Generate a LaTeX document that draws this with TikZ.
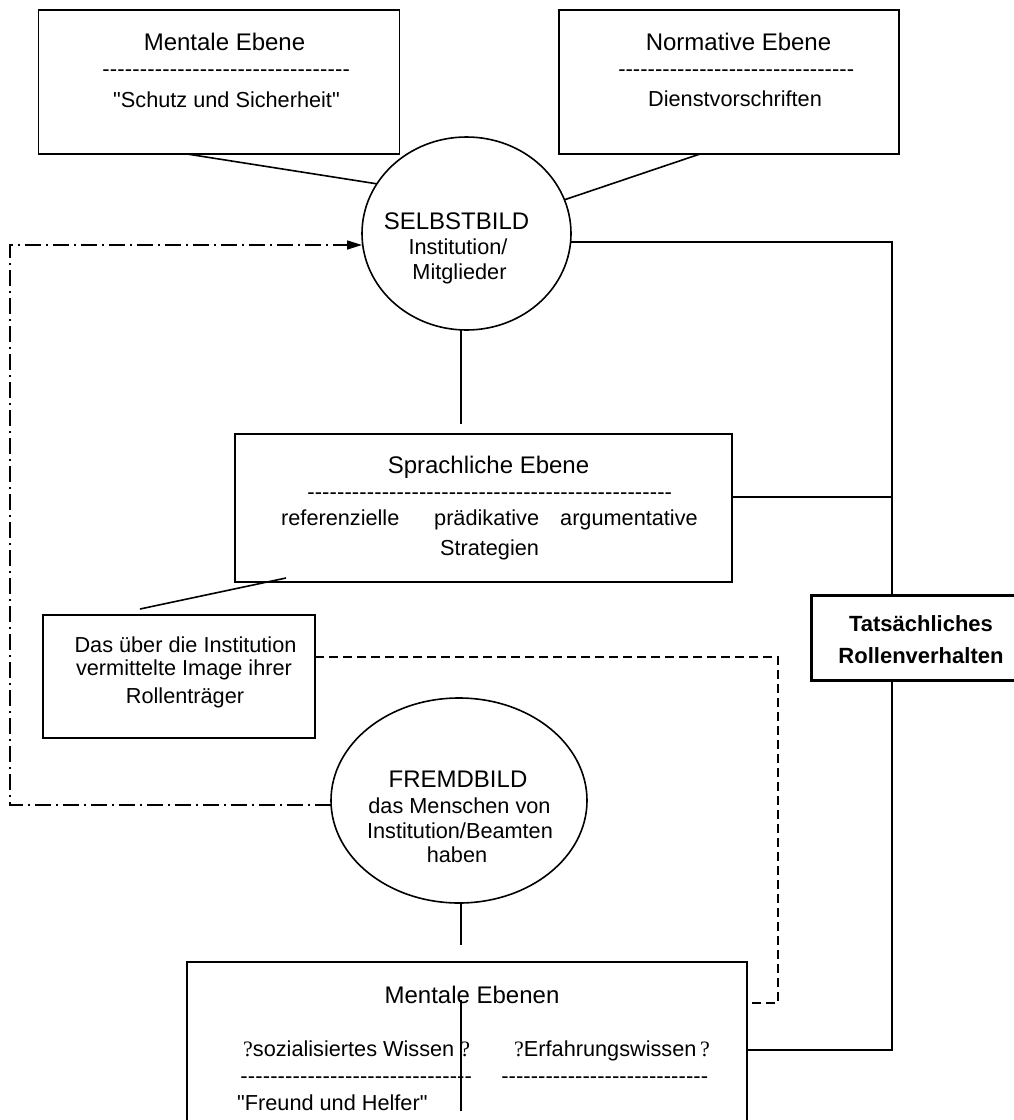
\documentclass[tikz,border=0pt]{standalone}
\usepackage{fontspec}
\setmainfont{Liberation Sans}
\newfontfamily\qfont{Liberation Serif}
\usetikzlibrary{arrows.meta,shapes.geometric}

% a row of hyphens filling a given width (in pt)
\newcommand\hyphrow[1]{\hbox to #1pt{\xleaders\hbox{-}\hfill}}
% the serif question marks around the knowledge types
\newcommand\qm{{\qfont\fontsize{22}{26}\selectfont ?}}
% straight double quote, set as a glyph so no ligature mapping curls it
\newcommand\dq{\XeTeXglyph\XeTeXcharglyph"22\relax}

\tikzset{
  conn/.style={line width=1.6pt},
  box/.style={draw, line width=1.6pt, rectangle, inner sep=0pt, outer sep=0pt},
  oval/.style={draw, line width=1.6pt, ellipse, inner sep=0pt, outer sep=0pt},
  head/.style={font=\fontsize{24}{28}\selectfont, inner sep=0pt, anchor=base},
  sub/.style={font=\fontsize{21.7}{26}\selectfont, inner sep=0pt, anchor=base},
  subleft/.style={sub, anchor=base west},
  hyph/.style={font=\fontsize{22}{26}\selectfont, inner sep=0pt, anchor=base west},
  boldtxt/.style={font=\fontsize{22}{26}\selectfont\bfseries, inner sep=0pt, anchor=base},
  dashline/.style={line width=1.6pt, dash pattern=on 9pt off 5pt},
  dashdotline/.style={line width=1.6pt, dash pattern=on 16pt off 5pt on 2pt off 5pt},
}

\begin{document}
\begin{tikzpicture}[x=1pt,y=-1pt]
\useasboundingbox (0,0) rectangle (1013,1120);
\fill[white] (0,0) rectangle (1013,1120);

% ---- shapes ----
\node[box, minimum width=361pt, minimum height=144pt] (mental) at (219,82) {};
\node[box, minimum width=340pt, minimum height=144pt] (norm) at (729,82) {};
\node[oval, minimum width=209pt, minimum height=193pt] (selbst) at (466.5,233.5) {};
\node[box, minimum width=497pt, minimum height=148pt] (sprach) at (483.5,508) {};
\node[box, minimum width=272pt, minimum height=123pt] (image) at (179,676.5) {};
\node[oval, minimum width=256pt, minimum height=205pt] (fremd) at (459,800.5) {};
\node[box, minimum width=560pt, minimum height=168pt] (ebenen) at (467,1046) {};
\node[draw, line width=3pt, rectangle, inner sep=0pt, outer sep=0pt,
      minimum width=205pt, minimum height=85pt] (tat) at (913.5,637.5) {};

% ---- texts ----
\node[head] (t1a) at (224.5,50) {Mentale Ebene};
\node[hyph] (t1b) at (102,76.7) {\hyphrow{248}};
\node[sub]  (t1c) at (226.5,107) {\dq Schutz und Sicherheit\dq};

\node[head] (t2a) at (738.5,50) {Normative Ebene};
\node[hyph] (t2b) at (618,76.7) {\hyphrow{236}};
\node[sub]  (t2c) at (735,106) {Dienstvorschriften};

\node[head] (t3a) at (456.5,229) {SELBSTBILD};
\node[sub]  (t3b) at (458,254) {Institution/};
\node[sub]  (t3c) at (459.5,279) {Mitglieder};

\node[head]    (t4a) at (488.5,473) {Sprachliche Ebene};
\node[hyph]    (t4b) at (307,499) {\hyphrow{365}};
\node[subleft] (t4c) at (281,525) {referenzielle};
\node[subleft] (t4d) at (434,525) {prädikative};
\node[subleft] (t4e) at (560,525) {argumentative};
\node[sub]     (t4f) at (489.5,555) {Strategien};

\node[sub] (t5a) at (185.5,652) {Das über die Institution};
\node[sub] (t5b) at (184,675) {vermittelte Image ihrer};
\node[sub] (t5c) at (185,703) {Rollenträger};

\node[head] (t6a) at (458,787) {FREMDBILD};
\node[sub]  (t6b) at (459.5,813) {das Menschen von};
\node[sub]  (t6c) at (460,838) {Institution/Beamten};
\node[sub]  (t6d) at (457,862) {haben};

\node[head]    (t7a) at (472,1003) {Mentale Ebenen};
\node[subleft] (t7b) at (243,1056) {\qm sozialisiertes Wissen \qm};
\node[hyph]    (t7c) at (240,1083) {\hyphrow{232}};
\node[subleft] (t7d) at (237,1110) {\dq Freund und Helfer\dq};
\node[subleft] (t7e) at (514,1056) {\qm Erfahrungswissen\,\qm};
\node[hyph]    (t7f) at (501,1083) {\hyphrow{207}};

\node[boldtxt] (t8a) at (921,631) {Tatsächliches};
\node[boldtxt] (t8b) at (921,663) {Rollenverhalten};

% ---- connector points ----
\coordinate (r1) at (892,242);
\coordinate (r2) at (892,497);
\coordinate (r3) at (892,1050);
\coordinate (s1) at (461,424);
\coordinate (p1) at (286,578);
\coordinate (p2) at (140,609);
\coordinate (d1) at (778,1003);
\coordinate (c1) at (10,805);
\coordinate (c2) at (10,245);
\coordinate (f1) at (461,945);
\coordinate (m1) at (461,1000);
\coordinate (m2) at (461,1111);

% ---- connectors ----
\draw[conn] ([xshift=-32pt]mental.south) -- (selbst.151.5);
\draw[conn] ([xshift=-29pt]norm.south) -- (selbst.19.3);
\draw[conn] (r1 -| selbst.east) -- (r1) -- (r1 |- tat.north);
\draw[conn] ([yshift=11pt]sprach.east) -- (r2);
\draw[conn] (r1 |- tat.south) -- (r3) -- (r3 -| ebenen.east);
\draw[conn] ([xshift=-5.5pt]selbst.south) -- (s1);
\draw[conn] (p1) -- (p2);
\draw[conn] ([xshift=2pt]fremd.south) -- (f1);
\draw[conn] (m1) -- (m2);
\draw[dashline] ([yshift=19.5pt]image.east) -| (d1) -- (d1 -| ebenen.east);
\draw[dashdotline, -{Triangle[length=15pt,width=9pt]}]
  ([yshift=-4.5pt]fremd.west) -- (c1) -- (c2) -- ([yshift=-11.5pt]selbst.west);
\end{tikzpicture}
\end{document}
